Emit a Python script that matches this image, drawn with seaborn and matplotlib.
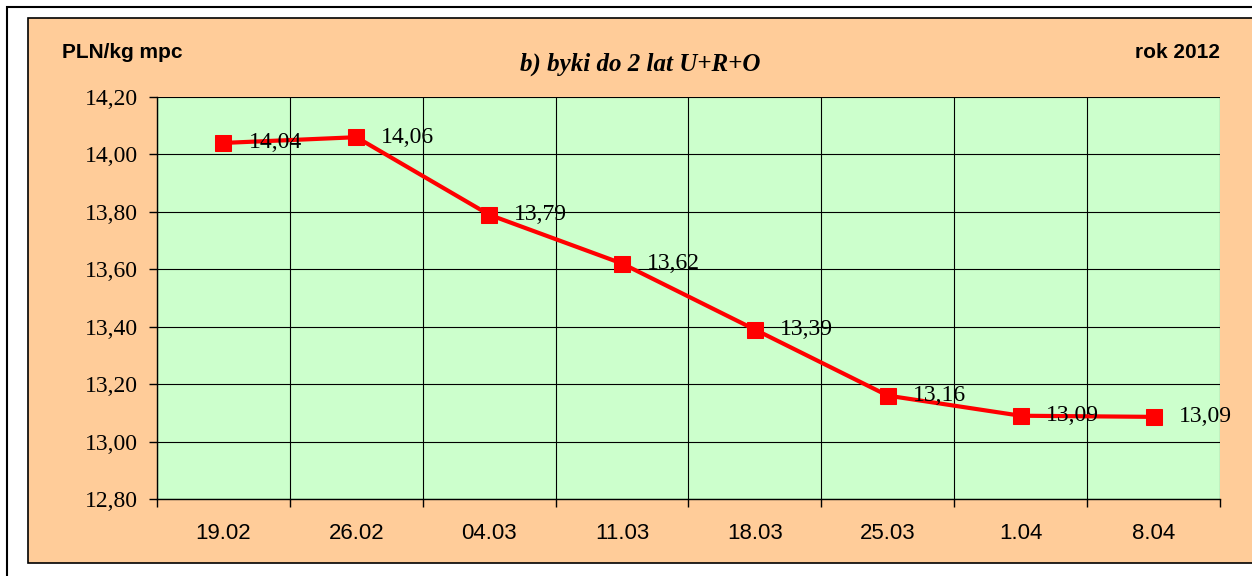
import matplotlib
matplotlib.use("Agg")
import matplotlib.pyplot as plt
from matplotlib.patches import Rectangle
from matplotlib.ticker import FixedLocator
import seaborn as sns
import pandas as pd

plt.rcParams["font.family"] = "Liberation Serif"

# dane
dates = ["19.02", "26.02", "04.03", "11.03", "18.03", "25.03", "1.04", "8.04"]
prices = [14.04, 14.06, 13.79, 13.62, 13.39, 13.16, 13.09, 13.086]
y_ticks = [12.80, 13.00, 13.20, 13.40, 13.60, 13.80, 14.00, 14.20]

df = pd.DataFrame({"data": dates, "cena": prices})


def pl(v):
    # przecinek dziesiętny
    return f"{v:.2f}".replace(".", ",")


fig = plt.figure(figsize=(12.52, 5.76), dpi=100)
fig.patch.set_facecolor("white")

# ramki tła
W, H = 1252, 576
fig.patches.append(Rectangle((7 / W, -0.01), 1.02, 1 - 7 / H + 0.01, transform=fig.transFigure,
                             facecolor="white", edgecolor="black", linewidth=1.5, zorder=-2))
fig.patches.append(Rectangle((28 / W, 1 - 563 / H), 1.02, (563 - 18) / H, transform=fig.transFigure,
                             facecolor="#FFCC99", edgecolor="black", linewidth=1.2, zorder=-1))

ax = fig.add_axes([157 / W, 1 - 499 / H, (1220 - 157) / W, (499 - 97) / H])
ax.set_facecolor("#CCFFCC")

sns.lineplot(data=df, x="data", y="cena", ax=ax, color="red", linewidth=3,
             marker="s", markersize=11, markeredgecolor="red", sort=False, zorder=5)

for i, v in enumerate(prices):
    ax.annotate(pl(v), (i, v), xytext=(18, 0), textcoords="offset points",
                va="center", ha="left", fontsize=17, zorder=6)

ax.set_xlim(-0.5, len(dates) - 0.5)
ax.set_ylim(12.8, 14.2)
ax.set_yticks(y_ticks, labels=[pl(t) for t in y_ticks], fontsize=17)
ax.set_xticks(range(len(dates)), labels=dates, fontsize=16, family="Liberation Sans")
ax.xaxis.set_minor_locator(FixedLocator([i + 0.5 for i in range(-1, len(dates))]))
ax.tick_params(axis="x", which="major", length=0, pad=17)
ax.tick_params(axis="x", which="minor", length=6, width=1, color="black")
ax.tick_params(axis="y", length=6, width=1, pad=8)

ax.grid(True, axis="y", which="major", color="black", linewidth=0.8)
ax.grid(True, axis="x", which="minor", color="black", linewidth=0.8)
ax.grid(False, axis="x", which="major")
ax.set_axisbelow(True)
for s in ["top", "right"]:
    ax.spines[s].set_visible(False)
for s in ["left", "bottom"]:
    ax.spines[s].set_color("black")
    ax.spines[s].set_linewidth(1)
ax.set_xlabel("")
ax.set_ylabel("")

fig.text(62 / W, 1 - 53 / H, "PLN/kg mpc", fontsize=15, fontweight="bold",
         family="Liberation Sans", ha="left", va="center")
fig.text(1220 / W, 1 - 53 / H, "rok 2012", fontsize=15, fontweight="bold",
         family="Liberation Sans", ha="right", va="center")
fig.text(640 / W, 1 - 64 / H, "b) byki do 2 lat U+R+O", fontsize=18, fontweight="bold",
         fontstyle="italic", ha="center", va="center")

fig.savefig("out.png", dpi=100)
